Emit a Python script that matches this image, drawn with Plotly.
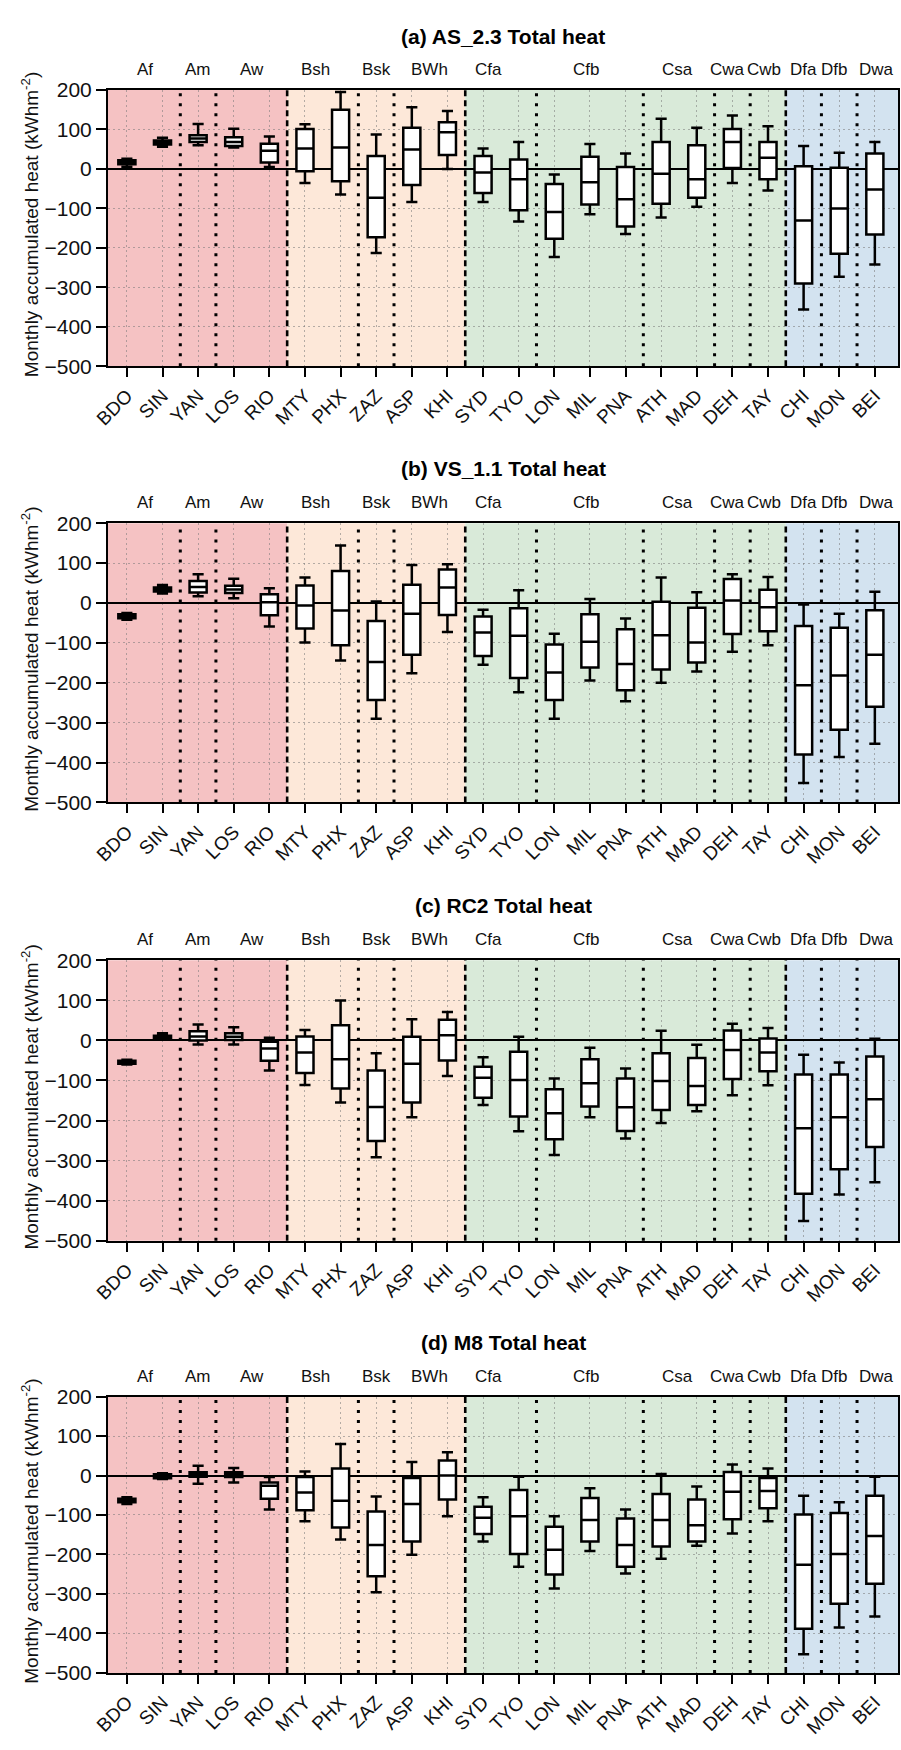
import plotly.graph_objects as go

# ---------------- data ----------------
cities = ["BDO", "SIN", "YAN", "LOS", "RIO", "MTY", "PHX", "ZAZ", "ASP", "KHI", "SYD",
          "TYO", "LON", "MIL", "PNA", "ATH", "MAD", "DEH", "TAY", "CHI", "MON", "BEI"]

climate_labels = ["Af", "Am", "Aw", "Bsh", "Bsk", "BWh", "Cfa", "Cfb", "Csa", "Cwa", "Cwb", "Dfa", "Dfb", "Dwa"]
climate_sizes = [2, 1, 2, 2, 1, 2, 2, 3, 2, 1, 1, 1, 1, 1]
main_groups = ["A", "B", "C", "D"]
main_sizes = [5, 5, 9, 3]

panel_titles = ["(a) AS_2.3 Total heat", "(b) VS_1.1 Total heat", "(c) RC2 Total heat", "(d) M8 Total heat"]
y_ticks = [200, 100, 0, -100, -200, -300, -400, -500]

# panel (a)
a_low = [5, 56, 60, 54, 5, -36, -65, -213, -84, 0, -84, -133, -223, -115, -165, -123, -96, -36, -55, -356, -273, -242]
a_q1 = [12, 62, 68, 58, 16, -6, -31, -173, -41, 35, -61, -105, -177, -90, -146, -88, -73, 2, -26, -290, -215, -166]
a_med = [17, 67, 77, 68, 46, 52, 54, -73, 49, 93, -9, -26, -109, -34, -77, -12, -26, 68, 28, -131, -100, -52]
a_q3 = [22, 72, 85, 80, 64, 101, 150, 33, 104, 118, 33, 24, -38, 31, 5, 68, 60, 101, 68, 7, 3, 39]
a_high = [26, 79, 114, 102, 82, 113, 195, 87, 156, 147, 52, 68, -14, 63, 39, 127, 104, 135, 108, 58, 41, 68]

# panel (b)
b_low = [-42, 24, 17, 12, -59, -99, -144, -290, -176, -73, -155, -224, -290, -194, -246, -200, -172, -122, -106, -451, -386, -353]
b_q1 = [-38, 29, 26, 25, -31, -64, -106, -243, -130, -30, -133, -188, -243, -162, -219, -167, -149, -78, -71, -380, -318, -260]
b_med = [-33, 35, 40, 34, 2, -6, -19, -148, -27, 39, -74, -82, -174, -97, -153, -81, -99, 6, -11, -206, -182, -130]
b_q3 = [-28, 39, 55, 43, 22, 44, 80, -45, 46, 84, -34, -13, -104, -28, -66, 3, -12, 60, 33, -58, -62, -18]
b_high = [-25, 45, 72, 61, 37, 64, 144, 4, 95, 97, -17, 32, -77, 10, -39, 64, 27, 72, 65, -4, -27, 28]

# panel (c)
c_low = [-60, 3, -10, -10, -75, -111, -155, -292, -192, -89, -161, -227, -286, -192, -245, -206, -177, -137, -112, -451, -385, -354]
c_q1 = [-58, 5, 0, 1, -51, -81, -120, -251, -155, -50, -143, -190, -247, -165, -226, -174, -161, -96, -77, -383, -322, -266]
c_med = [-54, 9, 10, 9, -20, -30, -47, -166, -58, 13, -93, -99, -182, -107, -167, -101, -114, -24, -30, -219, -192, -147]
c_q3 = [-51, 12, 23, 18, -3, 10, 38, -75, 9, 52, -66, -28, -122, -47, -95, -32, -44, 25, 5, -85, -85, -40]
c_high = [-48, 18, 40, 33, 7, 26, 100, -32, 53, 71, -42, 9, -95, -18, -70, 24, -11, 42, 31, -36, -55, 4]

# panel (d)
d_low = [-72, -9, -21, -18, -86, -116, -162, -296, -201, -103, -167, -231, -286, -191, -248, -211, -178, -147, -116, -453, -385, -357]
d_q1 = [-68, -7, -3, -4, -59, -88, -132, -255, -167, -61, -148, -199, -251, -167, -231, -180, -167, -111, -83, -388, -325, -274]
d_med = [-64, -1, 3, 2, -26, -43, -64, -176, -72, 0, -107, -103, -188, -113, -176, -113, -126, -41, -39, -226, -199, -153]
d_q3 = [-59, 3, 8, 8, -18, -4, 18, -91, -6, 38, -79, -37, -130, -57, -109, -47, -61, 9, -6, -99, -95, -51]
d_high = [-55, 6, 25, 19, -4, 10, 80, -53, 34, 59, -55, -3, -103, -32, -86, 4, -28, 28, 18, -51, -68, -3]

panels = [
    (a_low, a_q1, a_med, a_q3, a_high),
    (b_low, b_q1, b_med, b_q3, b_high),
    (c_low, c_q1, c_med, c_q3, c_high),
    (d_low, d_q1, d_med, d_q3, d_high),
]

# ---------------- layout constants ----------------
W, H = 901, 1750
ML, MR = 108, 3
panel_px = [(79, 359), (518, 801), (961, 1245), (1403, 1683)]  # top, bottom pixel rows of plot areas
title_px = [25, 463, 905, 1348]
x_range = [-0.53, 21.65]
band_colors = ["#F5C2C3", "#FDE8D9", "#D9EAD9", "#D3E3F0"]
label_offsets = {"Bsh": -0.2, "Cfa": -0.35, "Cfb": -0.1, "Csa": -0.05, "Cwa": -0.15, "Cwb": -0.1, "Dfb": -0.15, "Dwa": 0.05}
FONT = "Liberation Sans, Arial, Helvetica, sans-serif"
GRID = "rgba(120,120,120,0.55)"

fig = go.Figure()
layout = dict(
    width=W, height=H,
    margin=dict(l=ML, r=MR, t=0, b=0),
    paper_bgcolor="white", plot_bgcolor="white",
    font=dict(family=FONT, color="black"),
    showlegend=False,
)
shapes = []
annotations = []

for i, (lo, q1, med, q3, hi) in enumerate(panels):
    n = "" if i == 0 else str(i + 1)
    xa, ya = "x" + n, "y" + n
    top, bot = panel_px[i]
    dom = [(H - bot) / H, (H - top) / H]

    fig.add_trace(go.Box(
        x=cities, q1=q1, median=med, q3=q3, lowerfence=lo, upperfence=hi,
        xaxis=xa, yaxis=ya, fillcolor="white",
        line=dict(color="black", width=2.5), whiskerwidth=0.65, width=0.48,
        boxpoints=False, hoverinfo="skip", showlegend=False,
    ))

    layout["xaxis" + n] = dict(
        domain=[0, 1], anchor=ya, type="category", categoryorder="array", categoryarray=cities,
        range=x_range, showline=True, mirror=True, linecolor="black", linewidth=2,
        ticks="outside", ticklen=9, tickwidth=2, tickcolor="black", tickangle=-45,
        tickfont=dict(size=19, family=FONT, color="#111"),
        showgrid=True, gridcolor=GRID, gridwidth=1, griddash="2px,3px",
        zeroline=False,
    )
    layout["yaxis" + n] = dict(
        domain=dom, anchor=xa, range=[-500, 200], tickvals=y_ticks,
        showline=True, mirror=True, linecolor="black", linewidth=2,
        ticks="outside", ticklen=10, tickwidth=2, tickcolor="black",
        tickfont=dict(size=21, family=FONT, color="#111"),
        showgrid=True, gridcolor=GRID, gridwidth=1, griddash="2px,3px",
        zeroline=True, zerolinecolor="black", zerolinewidth=2,
    )

    # background bands for main climate groups
    start = 0
    bounds = []
    for g, size in enumerate(main_sizes):
        x0 = x_range[0] if g == 0 else start - 0.5
        x1 = x_range[1] if g == len(main_sizes) - 1 else start + size - 0.5
        shapes.append(dict(type="rect", xref=xa, yref=ya + " domain", x0=x0, x1=x1, y0=0, y1=1,
                           fillcolor=band_colors[g], line=dict(width=0), layer="below"))
        start += size
        if g < len(main_sizes) - 1:
            bounds.append(start - 0.5)
    for b in bounds:
        shapes.append(dict(type="line", xref=xa, yref=ya + " domain", x0=b, x1=b, y0=0, y1=1,
                           line=dict(color="black", width=2.6, dash="6px,4px"), layer="above"))

    # sub-class boundaries and labels
    start = 0
    for lab, size in zip(climate_labels, climate_sizes):
        center = start + (size - 1) / 2 + label_offsets.get(lab, 0)
        annotations.append(dict(text=lab, xref=xa, yref=ya + " domain", x=center, y=1,
                                yanchor="bottom", yshift=9, showarrow=False,
                                font=dict(size=17, family=FONT, color="#111")))
        start += size
        if start < len(cities) and (start - 0.5) not in bounds:
            shapes.append(dict(type="line", xref=xa, yref=ya + " domain", x0=start - 0.5, x1=start - 0.5,
                               y0=0, y1=1, line=dict(color="black", width=3, dash="3px,7px"), layer="above"))

    # title
    annotations.append(dict(text="<b>" + panel_titles[i] + "</b>", xref="paper", yref="paper",
                            x=0.5, y=(H - title_px[i]) / H, xanchor="center", yanchor="middle",
                            showarrow=False, font=dict(size=21, family=FONT, color="black")))
    # y-axis title
    annotations.append(dict(text="Monthly accumulated heat (kWhm<sup>-2</sup>)", xref="paper", yref="paper",
                            x=(30 - ML) / (W - ML - MR), y=(H - (top + bot) / 2 + 3) / H,
                            xanchor="center", yanchor="middle", textangle=-90, showarrow=False,
                            font=dict(size=19, family=FONT, color="#111")))

layout["shapes"] = shapes
layout["annotations"] = annotations
fig.update_layout(**layout)
fig.write_html("out.html")
